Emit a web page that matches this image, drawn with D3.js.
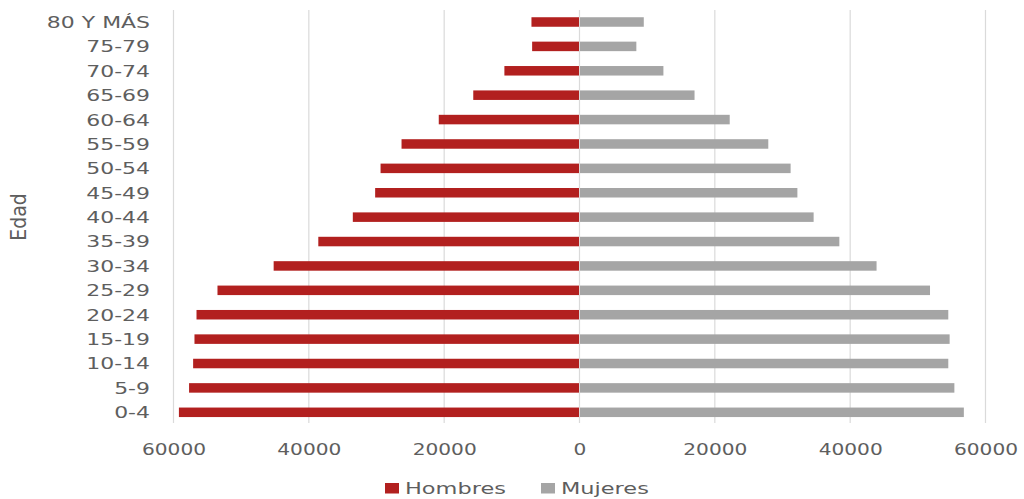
<!DOCTYPE html>
<html>
<head>
<meta charset="utf-8">
<script src="https://cdn.jsdelivr.net/npm/d3@7"></script>
<style>
  html, body { margin: 0; padding: 0; background: #ffffff; }
  svg { display: block; }
  text { font-family: "DejaVu Sans", sans-serif; fill: #5e5e5e; }
</style>
</head>
<body>
<svg id="chart" width="1024" height="499"></svg>
<script>
// Age groups, youngest first
const categories = ["0-4", "5-9", "10-14", "15-19", "20-24", "25-29", "30-34", "35-39",
  "40-44", "45-49", "50-54", "55-59", "60-64", "65-69", "70-74", "75-79", "80 Y MÁS"];

// Population by sex for each age group
const hombres = [59200, 57700, 57100, 56900, 56600, 53500, 45200, 38600,
  33500, 30200, 29400, 26300, 20800, 15700, 11100, 7000, 7100];
const mujeres = [56800, 55400, 54500, 54700, 54500, 51800, 43900, 38400,
  34600, 32200, 31200, 27900, 22200, 17000, 12400, 8400, 9500];

const xTicks = [-60000, -40000, -20000, 0, 20000, 40000, 60000];
const seriesNames = ["Hombres", "Mujeres"];
const seriesColors = ["#b2201f", "#a5a5a5"];
const axisTitle = "Edad";

const svg = d3.select("#chart");

const x = d3.scaleLinear().domain([-60000, 60000]).range([173.5, 985.5]);
const y = d3.scaleBand().domain(categories.slice().reverse())
  .range([9.8, 424.5]).paddingInner(0.61).paddingOuter(0.305);

// vertical gridlines
svg.append("g").selectAll("line").data(xTicks).join("line")
  .attr("x1", d => x(d)).attr("x2", d => x(d))
  .attr("y1", 10).attr("y2", 423)
  .attr("stroke", "#dadada").attr("stroke-width", 1.2);

// men to the left of zero, women to the right
const rows = categories.map((c, i) => ({ c, h: hombres[i], m: mujeres[i] }));

svg.append("g").selectAll("rect").data(rows).join("rect")
  .attr("x", d => x(-d.h)).attr("width", d => x(0) - x(-d.h) - 0.5)
  .attr("y", d => y(d.c)).attr("height", y.bandwidth())
  .attr("fill", seriesColors[0]);

svg.append("g").selectAll("rect").data(rows).join("rect")
  .attr("x", x(0) + 0.5).attr("width", d => x(d.m) - x(0) - 0.5)
  .attr("y", d => y(d.c)).attr("height", y.bandwidth())
  .attr("fill", seriesColors[1]);

// bottom axis (absolute values)
const xAxis = svg.append("g").attr("transform", "translate(0,423)")
  .call(d3.axisBottom(x).tickValues(xTicks).tickSize(0).tickFormat(d => String(Math.abs(d))));
xAxis.select(".domain").remove();
xAxis.selectAll("text")
  .attr("y", 0).attr("dy", 0)
  .attr("transform", "translate(0,32) scale(1.26,1)")
  .style("font-size", "16px").style("font-family", "DejaVu Sans, sans-serif")
  .attr("fill", "#5e5e5e");

// category axis
const yAxis = svg.append("g").attr("transform", "translate(150,0)")
  .call(d3.axisLeft(y).tickSize(0).tickPadding(0));
yAxis.select(".domain").remove();
yAxis.selectAll("text")
  .attr("x", 0).attr("dy", "0.36em")
  .attr("transform", "scale(1.33,1)")
  .style("font-size", "16.5px").style("font-family", "DejaVu Sans, sans-serif")
  .attr("fill", "#5e5e5e");

// axis title
svg.append("text")
  .attr("transform", "translate(26,217) rotate(-90) scale(1.15,1.3)")
  .attr("text-anchor", "middle")
  .style("font-size", "16.5px")
  .text(axisTitle);

// legend
const legendX = [385, 541];
const legend = svg.append("g").selectAll("g").data(seriesNames).join("g")
  .attr("transform", (d, i) => `translate(${legendX[i]},0)`);
legend.append("rect")
  .attr("x", 0).attr("y", 483).attr("width", 14).attr("height", 10.5)
  .attr("fill", (d, i) => seriesColors[i]);
legend.append("text")
  .attr("transform", "translate(20,494) scale(1.36,1)")
  .style("font-size", "16.5px")
  .text(d => d);
</script>
</body>
</html>
